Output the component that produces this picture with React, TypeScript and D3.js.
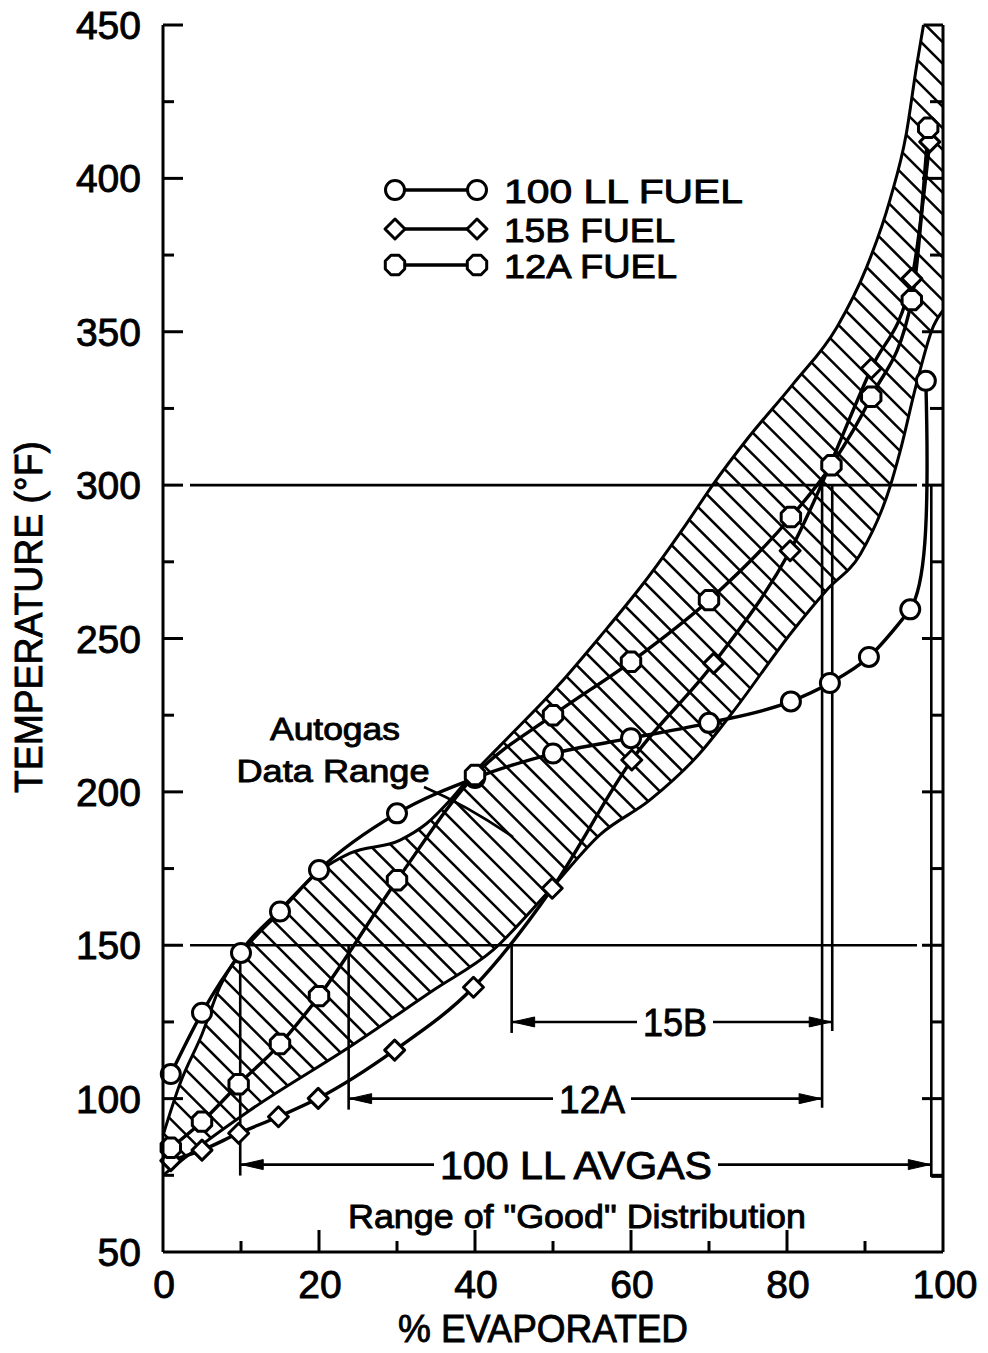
import React, { useEffect } from 'react';
import * as d3 from 'd3';

const W = 988;
const H = 1353;

// axis ticks
const xTickVals = [0, 10, 20, 30, 40, 50, 60, 70, 80, 90, 100];
const xTickLabels = [0, 20, 40, 60, 80, 100];
const yTickVals = [75, 100, 125, 150, 175, 200, 225, 250, 275, 300, 325, 350, 375, 400, 425, 450];
const yTickLabels = [50, 100, 150, 200, 250, 300, 350, 400, 450];
const refTemps = [150, 300];

// 100 LL fuel (circles)
const pctLL = [1, 5, 10, 15, 20, 30, 40, 50, 60, 70, 80.5, 85.5, 90.5, 95.8, 97.8];
const tempLL = [108, 128, 147.5, 161, 174.5, 193, 204.5, 212.5, 217.5, 222.5, 229.5, 235.5, 244, 259.5, 334];

// 15B fuel (diamonds)
const pct15B = [1, 5, 9.7, 14.8, 19.9, 29.7, 39.8, 49.9, 60.1, 70.6, 80.4, 90.8, 96, 98.3];
const temp15B = [79.8, 83.2, 88.7, 94.1, 100.1, 115.8, 136.3, 168.6, 210.4, 241.9, 278.6, 338, 367.3, 411.9];

// 12A fuel (octagons)
const pct12A = [1, 5, 9.7, 15, 20, 30, 40, 50, 60, 70, 80.5, 85.7, 90.8, 96, 98.1];
const temp12A = [84, 92.5, 104.7, 117.8, 133.4, 171.2, 205.5, 225, 242.4, 262.5, 289.6, 306.5, 328.8, 360.3, 416.5];

// Autogas data range band
const upperPct = [0, 2.2, 5, 7.3, 10, 15, 20, 24, 30.4, 33.8, 36.8, 39.4, 43.2, 50.9, 56, 61.6, 67.1, 70.6, 74.8, 80.8, 86.4, 90.2, 93.2, 95.3, 96.6, 97.5];
const upperTemp = [88, 105, 121, 136.5, 148, 161.5, 174, 180, 184.3, 189.7, 197.3, 205, 215, 235.3, 250.5, 268, 287.4, 300.5, 314.7, 333, 351.5, 371, 393, 414.6, 436.4, 450];
const lowerPct = [0, 5, 11.2, 24, 34.7, 42.3, 49.6, 56, 62.4, 68.8, 72.9, 80.8, 85.1, 89.4, 93.2, 94.5, 96.6, 98.8, 100];
const lowerTemp = [75, 85, 96.3, 117, 135.4, 148.4, 168, 186, 197.3, 212.5, 225.5, 252.7, 265.8, 277.5, 299.4, 311, 333, 352, 357];

// ranges of good distribution
const rangeNames = ['15B', '12A', '100 LL AVGAS'];
const rangeStart = [44.7, 23.8, 9.9];
const rangeEnd = [85.8, 84.5, 98.5];
const rangeArrowTemp = [125, 100, 78.5];
const rangeLabelX = [675, 592, 576];
const rangeLabelLen = [64, 66, 272];

const legendNames = ['100 LL FUEL', '15B FUEL', '12A FUEL'];
const legendLens = [239, 171, 173];

const FONT = "'Liberation Sans', Arial, sans-serif";
const TS = 0.9; // text stroke to imitate the heavier lettering

function markerPath(kind: string, r: number) {
  if (kind === 'diamond') {
    return `M0,${-r}L${r},0L0,${r}L${-r},0Z`;
  }
  const pts: string[] = [];
  for (let k = 0; k < 8; k++) {
    const a = Math.PI / 8 + (k * Math.PI) / 4;
    pts.push(`${(r * Math.cos(a)).toFixed(2)},${(r * Math.sin(a)).toFixed(2)}`);
  }
  return 'M' + pts.join('L') + 'Z';
}

function Marker({ kind, cx, cy }: { kind: string; cx: number; cy: number }) {
  if (kind === 'circle') {
    return <circle cx={cx} cy={cy} r={9.5} fill="#fff" stroke="#000" strokeWidth={3} />;
  }
  return (
    <path
      d={markerPath(kind, kind === 'diamond' ? 10 : 10.5)}
      transform={`translate(${cx},${cy})`}
      fill="#fff"
      stroke="#000"
      strokeWidth={3}
      strokeLinejoin="round"
    />
  );
}

function Arrow({ tipX, yy, dir }: { tipX: number; yy: number; dir: number }) {
  const L = 22;
  const w = 5;
  return (
    <path
      d={`M${tipX},${yy}L${tipX - dir * L},${yy - w}L${tipX - dir * L},${yy + w}Z`}
      fill="#000"
      stroke="#000"
      strokeWidth={1}
    />
  );
}

export default function App() {
  useEffect(() => {
    document.body.style.margin = '0';
  }, []);

  const x = d3.scaleLinear().domain([0, 100]).range([163, 943]);
  const y = d3.scaleLinear().domain([50, 450]).range([1252, 25]);

  const mkLine = (xs: number[], ys: number[]) =>
    d3
      .line<number>()
      .x((_d, i) => x(xs[i]))
      .y((_d, i) => y(ys[i]))
      .curve(d3.curveMonotoneX)(xs) as string;

  const upperD = mkLine(upperPct, upperTemp);
  const lowerD = mkLine(lowerPct, lowerTemp);
  const x0 = x(0), x1 = x(100), yTop = y(450), yBot = y(50);
  const clipUpper = `${upperD}L${x1},${yTop}L${x1},${yBot}L${x0},${yBot}Z`;
  const clipLower = `${lowerD}L${x1},${yTop}L${x0},${yTop}Z`;

  const hatchStarts = d3.range(-1400, 1000, 21.5);

  // 100 LL: smooth through all but the end point, then a sharp upturn to the end point
  const nLL = pctLL.length;
  const llHead = mkLine(pctLL.slice(0, nLL - 1), tempLL.slice(0, nLL - 1));
  const pa = [x(pctLL[nLL - 2]), y(tempLL[nLL - 2])];
  const pb = [x(pctLL[nLL - 1]), y(tempLL[nLL - 1])];
  const llTail = `M${pa[0]},${pa[1]}C${pa[0] + 14},${pa[1] - 22} ${pb[0] + 4},${pb[1] + 150} ${pb[0]},${pb[1]}`;

  const series = [
    { pct: pctLL, temp: tempLL, kind: 'circle', d: llHead + llTail },
    { pct: pct15B, temp: temp15B, kind: 'diamond', d: mkLine(pct15B, temp15B) },
    { pct: pct12A, temp: temp12A, kind: 'oct', d: mkLine(pct12A, temp12A) },
  ];
  const legendKinds = ['circle', 'diamond', 'oct'];
  const legendY = [190, 229, 265];

  const stroke = '#000';
  const textProps = { fontFamily: FONT, fill: '#000', stroke: '#000', strokeWidth: TS };

  return (
    <div style={{ position: 'absolute', left: 0, top: 0 }}>
      <svg width={W} height={H} viewBox={`0 0 ${W} ${H}`} style={{ display: 'block', background: '#fff' }}>
        <rect x={0} y={0} width={W} height={H} fill="#fff" />
        <defs>
          <clipPath id="clipUpper">
            <path d={clipUpper} />
          </clipPath>
          <clipPath id="clipLower">
            <path d={clipLower} />
          </clipPath>
        </defs>

        {/* hatched autogas band */}
        <g clipPath="url(#clipUpper)">
          <g clipPath="url(#clipLower)">
            {hatchStarts.map((c, i) => (
              <line key={i} x1={c} y1={0} x2={c + 1400} y2={1400} stroke={stroke} strokeWidth={2.6} />
            ))}
          </g>
        </g>
        <path d={upperD} fill="none" stroke={stroke} strokeWidth={3} />
        <path d={lowerD} fill="none" stroke={stroke} strokeWidth={3} />
        <line x1={x(97.5)} x2={x1} y1={yTop} y2={yTop} stroke={stroke} strokeWidth={3} />

        {/* reference lines */}
        {refTemps.map((t) => (
          <line key={t} x1={190} x2={917} y1={y(t)} y2={y(t)} stroke={stroke} strokeWidth={2.6} />
        ))}

        {/* range verticals, arrows and labels */}
        {rangeNames.map((name, i) => {
          const ya = y(rangeArrowTemp[i]);
          const xs = x(rangeStart[i]);
          const xe = x(rangeEnd[i]);
          const lx = rangeLabelX[i];
          const half = rangeLabelLen[i] / 2;
          const isLL = i === 2;
          const yStartLeft = isLL ? y(148) : y(150);
          return (
            <g key={name}>
              <line x1={xs} x2={xs} y1={yStartLeft} y2={ya + 11} stroke={stroke} strokeWidth={2.6} />
              <line x1={xe} x2={xe} y1={y(300)} y2={isLL ? ya + 12 : ya + 9} stroke={stroke} strokeWidth={2.6} />
              <line x1={xs} x2={lx - half - 6} y1={ya} y2={ya} stroke={stroke} strokeWidth={2.6} />
              <line x1={lx + half + 6} x2={xe} y1={ya} y2={ya} stroke={stroke} strokeWidth={2.6} />
              <Arrow tipX={xs + 1} yy={ya} dir={-1} />
              <Arrow tipX={xe - 1} yy={ya} dir={1} />
              <text
                x={lx}
                y={ya + 14}
                textAnchor="middle"
                fontSize={38}
                textLength={rangeLabelLen[i]}
                lengthAdjust="spacingAndGlyphs"
                {...textProps}
              >
                {name}
              </text>
            </g>
          );
        })}
        {/* closing box of 100 LL range at right */}
        <line x1={x(98.5)} x2={x(100)} y1={y(78.5) + 12} y2={y(78.5) + 12} stroke={stroke} strokeWidth={2.6} />

        <text x={577} y={1228} textAnchor="middle" fontSize={33} textLength={458} lengthAdjust="spacingAndGlyphs" {...textProps}>
          Range of "Good" Distribution
        </text>

        {/* series lines */}
        {series.map((s, i) => (
          <path key={i} d={s.d} fill="none" stroke={stroke} strokeWidth={3.4} />
        ))}
        {/* markers */}
        {series.map((s, i) => (
          <g key={'m' + i}>
            {s.pct.map((p, j) => (
              <Marker key={j} kind={s.kind} cx={x(p)} cy={y(s.temp[j])} />
            ))}
          </g>
        ))}

        {/* autogas label */}
        <text x={335} y={740} textAnchor="middle" fontSize={31} textLength={130} lengthAdjust="spacingAndGlyphs" {...textProps}>
          Autogas
        </text>
        <text x={333} y={782} textAnchor="middle" fontSize={31} textLength={193} lengthAdjust="spacingAndGlyphs" {...textProps}>
          Data Range
        </text>
        <path d="M424,787Q468,806 513,837" fill="none" stroke={stroke} strokeWidth={2.6} />

        {/* legend */}
        {legendNames.map((n, i) => (
          <g key={n}>
            <line x1={395} x2={477} y1={legendY[i]} y2={legendY[i]} stroke={stroke} strokeWidth={3.4} />
            <Marker kind={legendKinds[i]} cx={395} cy={legendY[i]} />
            <Marker kind={legendKinds[i]} cx={477} cy={legendY[i]} />
            <text
              x={504}
              y={legendY[i] + 13}
              fontSize={34}
              textLength={legendLens[i]}
              lengthAdjust="spacingAndGlyphs"
              {...textProps}
            >
              {n}
            </text>
          </g>
        ))}

        {/* axes */}
        <line x1={x0} x2={x0} y1={yTop} y2={yBot} stroke={stroke} strokeWidth={3} />
        <line x1={x1} x2={x1} y1={yTop} y2={yBot} stroke={stroke} strokeWidth={3} />
        <line x1={x0} x2={x1} y1={yBot} y2={yBot} stroke={stroke} strokeWidth={3} />
        {yTickVals.map((t) => {
          const major = t % 50 === 0;
          const len = major ? 20 : 11;
          return (
            <g key={t}>
              <line x1={x0} x2={x0 + len} y1={y(t)} y2={y(t)} stroke={stroke} strokeWidth={3} />
              {t < 450 && (
                <line x1={x1 - (major ? 21 : 13)} x2={x1} y1={y(t)} y2={y(t)} stroke={stroke} strokeWidth={3} />
              )}
            </g>
          );
        })}
        {xTickVals.map((v) => {
          if (v === 0 || v === 100) return null;
          const major = v % 20 === 0;
          return (
            <line key={v} x1={x(v)} x2={x(v)} y1={yBot} y2={yBot - (major ? 22 : 11)} stroke={stroke} strokeWidth={3} />
          );
        })}
        {yTickLabels.map((t) => (
          <text key={t} x={141} y={y(t)} dy="0.36em" textAnchor="end" fontSize={39} {...textProps}>
            {t}
          </text>
        ))}
        {xTickLabels.map((v) => (
          <text key={v} x={x(v) + (v === 100 ? 2 : 1)} y={1298} textAnchor="middle" fontSize={39} {...textProps}>
            {v}
          </text>
        ))}

        {/* axis titles */}
        <text
          transform="translate(42,617) rotate(-90)"
          textAnchor="middle"
          fontSize={38}
          textLength={352}
          lengthAdjust="spacingAndGlyphs"
          {...textProps}
        >
          TEMPERATURE (°F)
        </text>
        <text x={543} y={1342} textAnchor="middle" fontSize={39} textLength={290} lengthAdjust="spacingAndGlyphs" {...textProps}>
          % EVAPORATED
        </text>
      </svg>
    </div>
  );
}
